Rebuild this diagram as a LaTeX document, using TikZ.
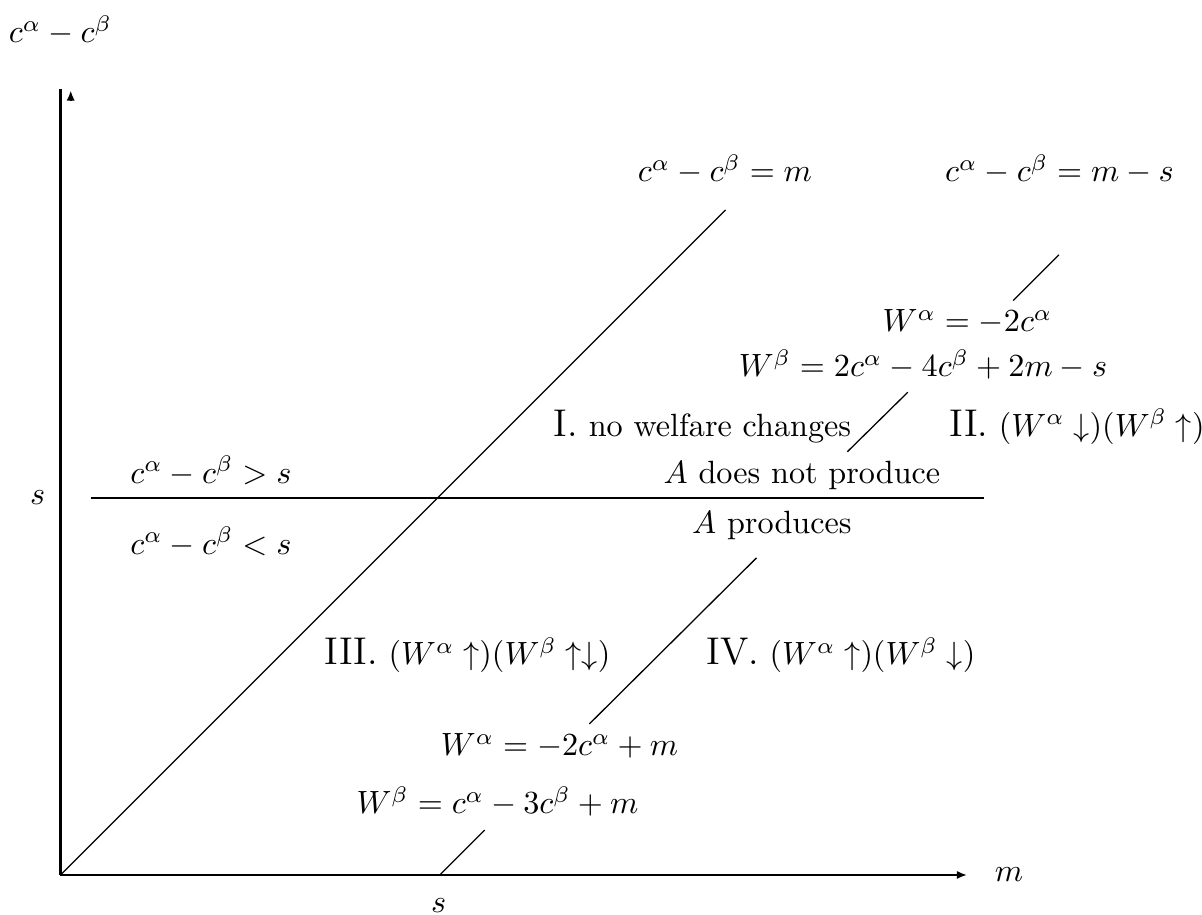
\documentclass[tikz,border=0pt]{standalone}
\usetikzlibrary{arrows.meta}
\tikzset{
  axis/.style={line width=.7pt,-{Latex[length=3.2pt,width=2.6pt]}},
  border/.style={line width=.7pt},
  locus/.style={line width=.4pt},
  lbl/.style={anchor=base,inner sep=0pt}
}
\newcommand{\regnum}[1]{{\large #1}}

\begin{document}
\begin{tikzpicture}
\useasboundingbox (-0.660,-0.426) rectangle (12.462,9.552);
% axes
\coordinate (O) at (0,0);
\coordinate (xend) at (9.897,0);
\coordinate (yend) at (0,8.58);
\draw[border] (O) -- (yend);
\draw[axis] (O) -- (xend);
\draw[axis] (0.112,8.46) -- (0.112,8.565);
\node (cy) at (0,9.22) {$c^\alpha-c^\beta$};
\node (mx) at (10.355,0) {$m$};
\node (sy) at (-0.25,4.12) {$s$};
\node (sx) at (4.13,-0.33) {$s$};
% s level
\draw[border] (0.333,4.116) -- (10.08,4.116);
\node[lbl] (gt) at (1.643,4.279) {$c^\alpha-c^\beta>s$};
\node[lbl] (lt) at (1.643,3.504) {$c^\alpha-c^\beta<s$};
\node[lbl] (np) at (8.095,4.279) {$A$ does not produce};
\node[lbl] (pr) at (7.767,3.723) {$A$ produces};
% loci
\draw[locus] (O) -- (7.26,7.26);
\draw[locus] (10.40,6.27) -- (10.90,6.77);
\draw[locus] (8.59,4.62) -- (9.25,5.27);
\draw[locus] (5.773,1.648) -- (7.598,3.461);
\draw[locus] (4.141,0) -- (4.631,0.491);
\node[lbl] (lm) at (7.254,7.565) {$c^\alpha-c^\beta=m$};
\node[lbl] (lms) at (10.906,7.565) {$c^\alpha-c^\beta=m-s$};
\node[lbl] (wa1) at (9.902,5.928) {$W^\alpha=-2c^\alpha$};
\node[lbl] (wb1) at (9.416,5.437) {$W^\beta=2c^\alpha-4c^\beta+2m-s$};
\node[lbl] (wa2) at (5.448,1.299) {$W^\alpha=-2c^\alpha+m$};
\node[lbl] (wb2) at (4.771,0.666) {$W^\beta=c^\alpha-3c^\beta+m$};
% regions
\node[lbl] (r1) at (7.009,4.79) {\regnum{I.} no welfare changes};
\node[lbl] (r2) at (11.097,4.79) {\regnum{II.} $(W^\alpha\downarrow)(W^\beta\uparrow)$};
\node[lbl] (r3) at (4.443,2.293) {\regnum{III.} $(W^\alpha\uparrow)(W^\beta\uparrow\downarrow)$};
\node[lbl] (r4) at (8.52,2.293) {\regnum{IV.} $(W^\alpha\uparrow)(W^\beta\downarrow)$};
\end{tikzpicture}
\end{document}
